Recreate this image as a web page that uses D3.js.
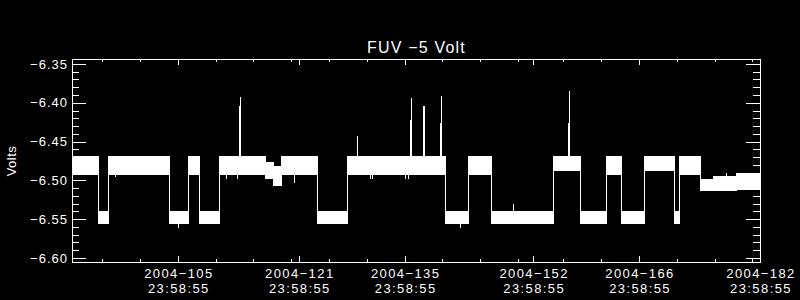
<!DOCTYPE html>
<html>
<head>
<meta charset="utf-8">
<script src="https://cdnjs.cloudflare.com/ajax/libs/d3/7.8.5/d3.min.js"></script>
<style>
    html, body { margin: 0; padding: 0; background: #000; }
    svg { display: block; }
    text { font-family: "Liberation Sans", Arial, sans-serif; fill: #fff; }
</style>
</head>
<body>
<svg id="chart" width="800" height="300"></svg>
<script>
// x values are day-of-year 2004, ticks fall at 23:58:55
let xDomain = [91, 182],
    yDomain = [-6.6052, -6.3436];

let yTickValues = [-6.60, -6.55, -6.50, -6.45, -6.40, -6.35],
    yMinorValues = [-6.59, -6.58, -6.57, -6.56, -6.54, -6.53, -6.52, -6.51, -6.49, -6.48,
                    -6.47, -6.46, -6.44, -6.43, -6.42, -6.41, -6.39, -6.38, -6.37, -6.36];

let xTickDays = [105, 121, 135, 152, 166, 182],
    xTickTime = "23:58:55",
    xMinorDays = [95, 100, 105, 110, 115, 120, 125, 130, 135, 140, 145, 150, 156, 161, 166, 171, 176, 181];

// voltage envelope of the noisy trace, one entry per plateau
let segStarts = [91.00, 94.41, 95.79, 103.80, 106.37, 107.77, 110.47, 116.58, 117.52, 118.71,
                 123.38, 127.40, 140.31, 143.41, 146.40, 154.60, 158.13, 161.66, 163.59, 166.69,
                 170.66, 171.32, 174.01, 175.76, 178.86],
    segEnd = 182,
    segHighs = [-6.468, -6.539, -6.468, -6.539, -6.468, -6.539, -6.468, -6.476, -6.482, -6.468,
                -6.539, -6.468, -6.539, -6.468, -6.539, -6.468, -6.539, -6.468, -6.539, -6.468,
                -6.539, -6.468, -6.498, -6.495, -6.491],
    segLows = [-6.4935, -6.5565, -6.4935, -6.5565, -6.4935, -6.5565, -6.4935, -6.4985, -6.507, -6.4935,
               -6.5565, -6.4935, -6.5565, -6.4935, -6.5565, -6.4885, -6.5565, -6.4935, -6.5565, -6.4885,
               -6.5565, -6.4935, -6.514, -6.514, -6.512];

// single samples sticking out of the band
let spikeDays = [113.06, 113.20, 128.67, 135.68, 135.81, 137.40, 137.53, 139.65, 139.78, 149.31,
                 156.58, 156.71, 177.53, 179.29,
                 96.66, 104.99, 111.34, 112.85, 120.30, 130.44, 130.71, 135.11, 135.38, 142.30],
    spikeValues = [-6.4044, -6.3923, -6.4422, -6.4216, -6.3945, -6.4048, -6.4048, -6.4267, -6.3919, -6.5311,
                   -6.4267, -6.3842, -6.4899, -6.4899,
                   -6.4959, -6.5616, -6.4985, -6.4985, -6.5034, -6.4985, -6.4985, -6.4985, -6.4985, -6.5616];

let svg = d3.select("#chart").attr("shape-rendering", "crispEdges");

let x = d3.scaleLinear().domain(xDomain).range([72, 760]),
    y = d3.scaleLinear().domain(yDomain).range([262, 59]);

let segments = segStarts.map((s, i) => ({
    start: s,
    end: i + 1 < segStarts.length ? segStarts[i + 1] : segEnd,
    hi: segHighs[i],
    lo: segLows[i]
}));

let segAt = (d) => segments.find((s) => d >= s.start && d < s.end) || segments[segments.length - 1];

// Data: plateaus
let plot = svg.append("g");
plot.selectAll("rect")
    .data(segments)
    .enter()
    .append("rect")
    .attr("x", (d) => x(d.start))
    .attr("width", (d) => x(d.end) - x(d.start))
    .attr("y", (d) => y(d.hi))
    .attr("height", (d) => y(d.lo) - y(d.hi))
    .attr("fill", "#fff");

// vertical jumps between plateaus
plot.selectAll("line.jump")
    .data(segments.slice(1).map((s, i) => [segments[i], s]))
    .enter()
    .append("line")
    .attr("class", "jump")
    .attr("x1", ([a, b]) => Math.round(x(b.start)) + 0.5)
    .attr("x2", ([a, b]) => Math.round(x(b.start)) + 0.5)
    .attr("y1", ([a, b]) => Math.min(y(a.hi), y(b.hi)))
    .attr("y2", ([a, b]) => Math.max(y(a.lo), y(b.lo)))
    .attr("stroke", "#fff");

plot.selectAll("line.spike")
    .data(spikeDays.map((d, i) => ({day: d, value: spikeValues[i]})))
    .enter()
    .append("line")
    .attr("class", "spike")
    .attr("x1", (d) => Math.round(x(d.day)) + 0.5)
    .attr("x2", (d) => Math.round(x(d.day)) + 0.5)
    .attr("y1", (d) => y(d.value))
    .attr("y2", (d) => { let s = segAt(d.day); return y((s.hi + s.lo) / 2); })
    .attr("stroke", "#fff");

// Axes, ticks pointing inwards on all four sides
let styleAxis = (g) => {
    g.select(".domain").remove();
    g.selectAll("line").attr("stroke", "#fff");
};

svg.append("g").attr("transform", "translate(72,0)")
    .call(d3.axisLeft(y).tickValues(yTickValues).tickSize(-14).tickPadding(4)
        .tickFormat((d) => d3.format(".2f")(d)))
    .call(styleAxis)
    .call((g) => g.selectAll("text")
        .attr("fill", "#fff")
        .style("font-size", "13px")
        .style("letter-spacing", "1px")
        .style("font-family", "'Liberation Sans', Arial, sans-serif"));
svg.append("g").attr("transform", "translate(72,0)")
    .call(d3.axisLeft(y).tickValues(yMinorValues).tickSize(-7).tickFormat(""))
    .call(styleAxis);
svg.append("g").attr("transform", "translate(760,0)")
    .call(d3.axisRight(y).tickValues(yTickValues).tickSize(-14).tickFormat(""))
    .call(styleAxis);
svg.append("g").attr("transform", "translate(760,0)")
    .call(d3.axisRight(y).tickValues(yMinorValues).tickSize(-7).tickFormat(""))
    .call(styleAxis);

svg.append("g").attr("transform", "translate(0,262)")
    .call(d3.axisBottom(x).tickValues(xTickDays).tickSize(-6).tickFormat(""))
    .call(styleAxis);
svg.append("g").attr("transform", "translate(0,262)")
    .call(d3.axisBottom(x).tickValues(xMinorDays).tickSize(-3).tickFormat(""))
    .call(styleAxis);
svg.append("g").attr("transform", "translate(0,59)")
    .call(d3.axisTop(x).tickValues(xTickDays).tickSize(-6).tickFormat(""))
    .call(styleAxis);
svg.append("g").attr("transform", "translate(0,59)")
    .call(d3.axisTop(x).tickValues(xMinorDays).tickSize(-3).tickFormat(""))
    .call(styleAxis);

// frame
svg.append("rect")
    .attr("x", 72.5)
    .attr("y", 59.5)
    .attr("width", 688)
    .attr("height", 203)
    .attr("fill", "none")
    .attr("stroke", "#fff");

// two-line date labels, one text per line
let xLabels = svg.append("g")
    .attr("text-anchor", "middle")
    .style("font-size", "13px")
    .style("letter-spacing", "1.4px");
xLabels.selectAll("text.date")
    .data(xTickDays)
    .enter()
    .append("text")
    .attr("class", "date")
    .attr("x", (d) => x(d) + 1)
    .attr("y", 278)
    .text((d) => `2004−${d}`);
xLabels.selectAll("text.time")
    .data(xTickDays)
    .enter()
    .append("text")
    .attr("class", "time")
    .attr("x", (d) => x(d) + 1)
    .attr("y", 293)
    .text(xTickTime);

svg.append("text")
    .attr("x", 416.5)
    .attr("y", 53)
    .attr("text-anchor", "middle")
    .style("font-size", "16px")
    .style("letter-spacing", "1.2px")
    .text("FUV −5 Volt");

svg.append("text")
    .attr("transform", "translate(15.5,161) rotate(-90)")
    .attr("text-anchor", "middle")
    .style("font-size", "13px")
    .style("letter-spacing", "0.5px")
    .text("Volts");
</script>
</body>
</html>
